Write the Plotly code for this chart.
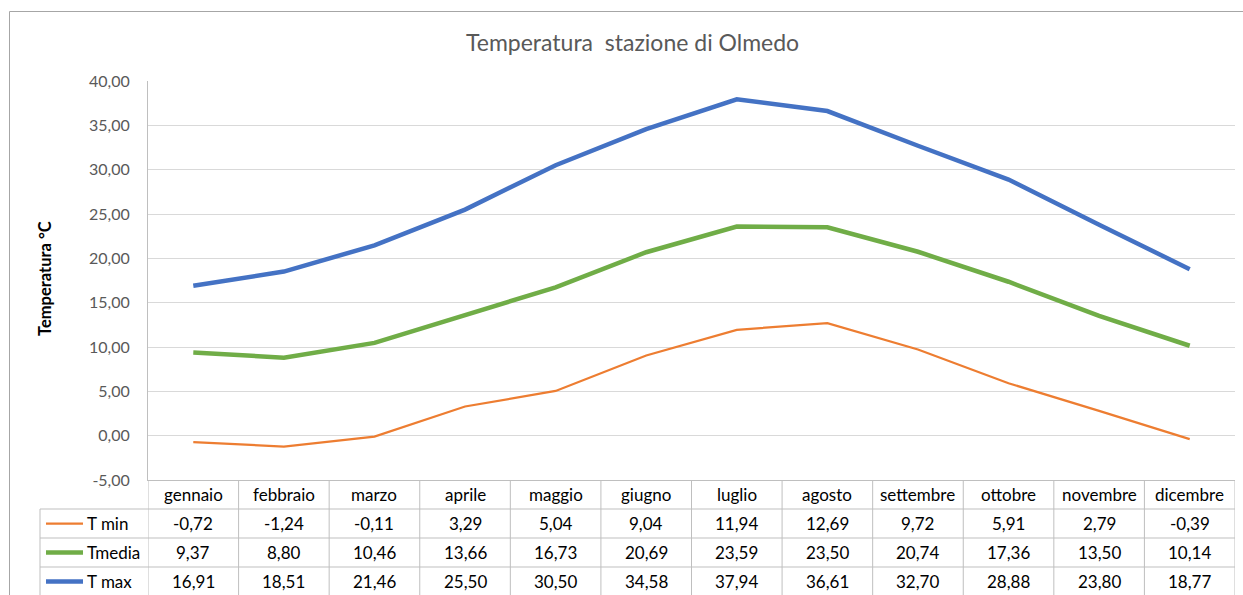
import plotly.graph_objects as go

# Monthly temperatures at the Olmedo station (°C)
mesi = ["gennaio", "febbraio", "marzo", "aprile", "maggio", "giugno",
        "luglio", "agosto", "settembre", "ottobre", "novembre", "dicembre"]
t_min = [-0.72, -1.24, -0.11, 3.29, 5.04, 9.04, 11.94, 12.69, 9.72, 5.91, 2.79, -0.39]
t_media = [9.37, 8.80, 10.46, 13.66, 16.73, 20.69, 23.59, 23.50, 20.74, 17.36, 13.50, 10.14]
t_max = [16.91, 18.51, 21.46, 25.50, 30.50, 34.58, 37.94, 36.61, 32.70, 28.88, 23.80, 18.77]
y_ticks = [-5, 0, 5, 10, 15, 20, 25, 30, 35, 40]

serie = [
    ("T min", t_min, "#ED7D31", 2.25),
    ("Tmedia", t_media, "#70AD47", 4.5),
    ("T max", t_max, "#4472C4", 4.5),
]

W, H = 1243, 595
L, R, T, B = 148, 8, 81, 115
PW, PH = W - L - R, H - T - B
FONT = "Lato"
GRID = "#d9d9d9"
TABLE = "#bfbfbf"


def px_x(p):
    """Horizontal pixel -> paper coordinate."""
    return (p - L) / PW


def px_y(p):
    """Vertical pixel -> paper coordinate."""
    return (H - B - p) / PH


def fmt(v):
    """Italian decimal format with a plain hyphen for negatives."""
    return f"{v:.2f}".replace(".", ",")


fig = go.Figure()
for nome, vals, col, w in serie:
    fig.add_trace(go.Scatter(x=mesi, y=vals, mode="lines", name=nome,
                             line=dict(color=col, width=w), showlegend=False))

shapes = []
annotations = []

# chart frame (top and left edges)
shapes.append(dict(type="line", xref="paper", yref="paper",
                   x0=px_x(9.5), x1=px_x(W + 5), y0=px_y(11.5), y1=px_y(11.5),
                   line=dict(color="#a6a6a6", width=1)))
shapes.append(dict(type="line", xref="paper", yref="paper",
                   x0=px_x(9.5), x1=px_x(9.5), y0=px_y(11.5), y1=px_y(H + 5),
                   line=dict(color="#a6a6a6", width=1)))

# data table below the plot
row_h = 29
top = H - B
rows_y = [top + row_h * k for k in range(5)]
n = len(mesi)
for k in range(1, 5):
    shapes.append(dict(type="line", xref="paper", yref="paper",
                       x0=px_x(40), x1=1, y0=px_y(rows_y[k]), y1=px_y(rows_y[k]),
                       line=dict(color=TABLE, width=1)))
for i in range(n + 1):
    shapes.append(dict(type="line", xref="x", yref="paper",
                       x0=i - 0.5, x1=i - 0.5, y0=0, y1=px_y(rows_y[4]),
                       line=dict(color=TABLE, width=1)))
shapes.append(dict(type="line", xref="paper", yref="paper",
                   x0=px_x(40), x1=px_x(40), y0=px_y(rows_y[1]), y1=px_y(rows_y[4]),
                   line=dict(color=TABLE, width=1)))

tfont = dict(family=FONT, size=17, color="#000000")
for i, m in enumerate(mesi):
    annotations.append(dict(xref="x", yref="paper", x=i, y=px_y(rows_y[0] + row_h / 2),
                            text=m, showarrow=False, font=tfont,
                            xanchor="center", yanchor="middle"))
for r, (nome, vals, col, w) in enumerate(serie):
    yc = px_y(rows_y[r + 1] + row_h / 2)
    for i, v in enumerate(vals):
        annotations.append(dict(xref="x", yref="paper", x=i, y=yc,
                                text=fmt(v), showarrow=False,
                                font=tfont, xanchor="center", yanchor="middle"))
    shapes.append(dict(type="line", xref="paper", yref="paper",
                       x0=px_x(46), x1=px_x(83), y0=yc, y1=yc,
                       line=dict(color=col, width=w)))
    annotations.append(dict(xref="paper", yref="paper", x=px_x(85), y=yc,
                            text=nome, showarrow=False, font=tfont,
                            xanchor="left", yanchor="middle"))

# chart title and axis title
annotations.append(dict(xref="paper", yref="paper", x=px_x(632), y=px_y(42),
                        text="Temperatura  stazione di Olmedo", showarrow=False,
                        font=dict(family=FONT, size=23, color="#595959"),
                        xanchor="center", yanchor="middle"))
annotations.append(dict(xref="paper", yref="paper", x=px_x(45), y=px_y(279),
                        text="<b>Temperatura °C</b>", showarrow=False, textangle=-90,
                        font=dict(family=FONT, size=16.5, color="#000000"),
                        xanchor="center", yanchor="middle"))

fig.update_layout(
    width=W, height=H,
    margin=dict(l=L, r=R, t=T, b=B),
    paper_bgcolor="white", plot_bgcolor="white",
    shapes=shapes, annotations=annotations,
    xaxis=dict(type="category", range=[-0.5, n - 0.5], showticklabels=False,
               showgrid=False, zeroline=False, showline=True, linecolor=TABLE,
               linewidth=1, ticks=""),
    yaxis=dict(range=[-5, 40], tickmode="array", tickvals=y_ticks,
               ticktext=[fmt(v) for v in y_ticks],
               showgrid=True, gridcolor=GRID, gridwidth=1, zeroline=False,
               showline=True, linecolor=TABLE, linewidth=1, ticks="",
               ticklabelstandoff=14,
               tickfont=dict(family=FONT, size=16, color="#595959")),
)

fig.write_html("out.html")
